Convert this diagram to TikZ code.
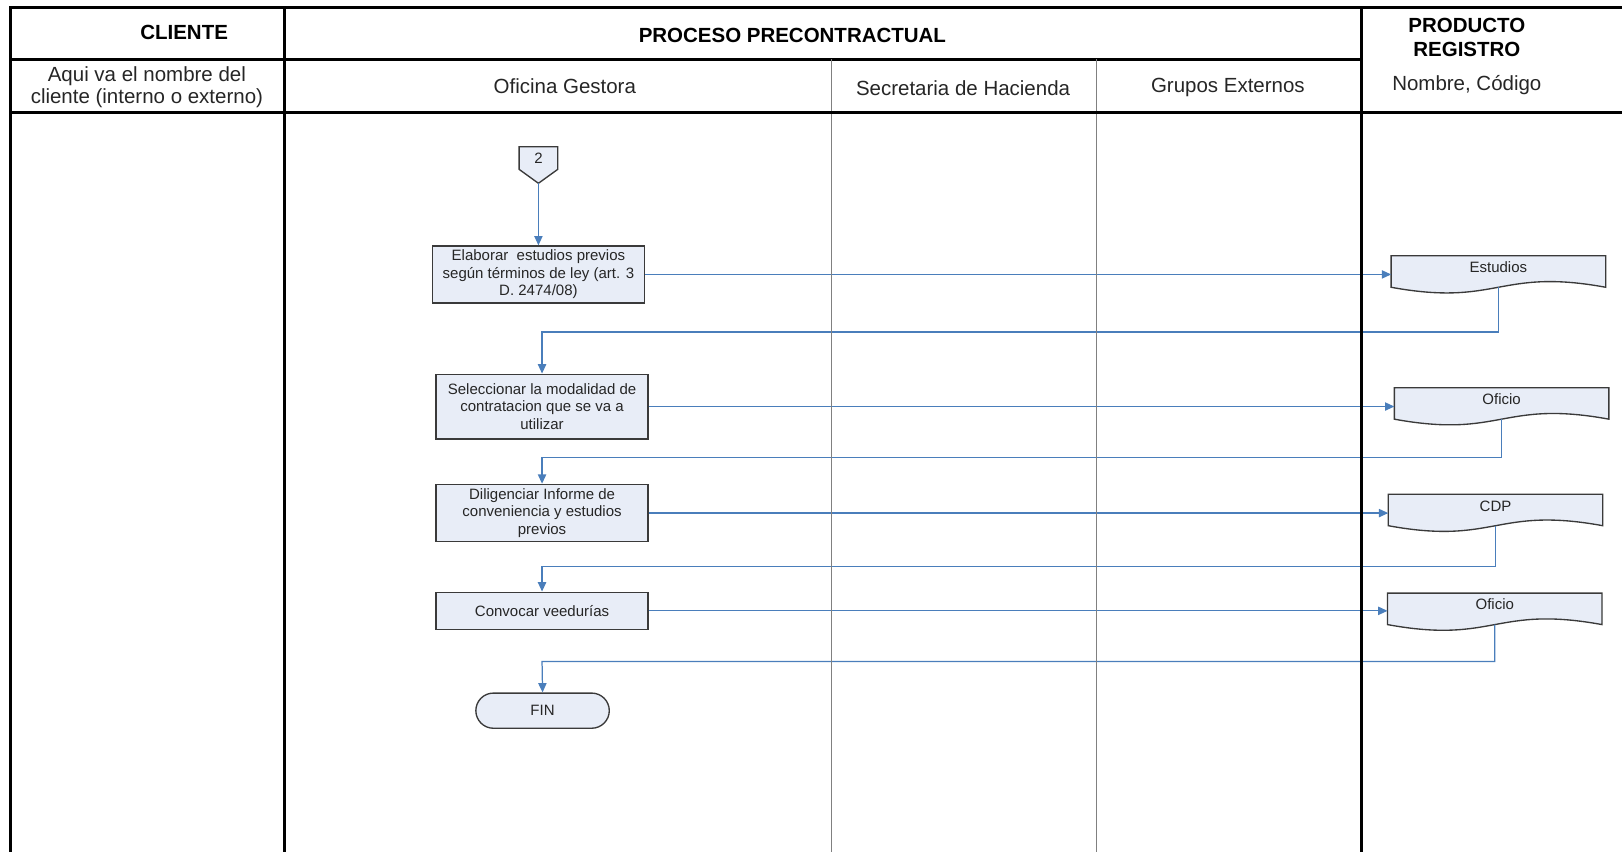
\documentclass[tikz,border=0pt]{standalone}
\usepackage{fontspec}
\setmainfont{Liberation Sans}
\usetikzlibrary{arrows.meta,backgrounds,shapes.misc,calc}
\definecolor{boxfill}{HTML}{E8EDF7}
\definecolor{flowblue}{HTML}{4A7EBB}
\definecolor{boxline}{HTML}{3A3A3A}
\definecolor{laneline}{HTML}{808080}
\definecolor{ink}{HTML}{262626}

\tikzset{
  frame/.style={line width=3pt, black},
  rowline/.style={line width=2pt, black},
  lane/.style={line width=1.4pt, laneline},
  head/.style={font=\fontsize{19.8}{23}\selectfont\bfseries, align=center, inner sep=0pt},
  sub/.style={font=\fontsize{19.8}{21}\selectfont, align=center, inner sep=0pt, text=ink},
  task/.style={draw=boxline, line width=1.3pt, fill=boxfill, minimum width=205pt,
    align=center, font=\fontsize{14.5}{17}\selectfont, text=ink, inner sep=2pt},
  docnode/.style={minimum width=207pt, minimum height=30pt, inner sep=0pt,
    font=\fontsize{14.5}{17}\selectfont, text=ink, text height=10pt, text depth=8pt},
  docshape/.style={draw=boxline, line width=1.3pt, fill=boxfill},
  offpage/.style={minimum width=37pt, minimum height=35pt, inner sep=0pt,
    font=\fontsize{14.5}{17}\selectfont, text=ink, text height=10pt, text depth=13pt},
  endterm/.style={draw=boxline, line width=1.3pt, fill=boxfill, rounded rectangle,
    minimum width=129pt, minimum height=34pt, inner sep=0pt,
    font=\fontsize{14.5}{17}\selectfont, text=ink},
  flow/.style={draw=flowblue, line width=1.2pt},
  flowarrow/.style={flow, -{Triangle[length=9pt,width=8pt]}},
}

\begin{document}
\begin{tikzpicture}[x=1pt, y=-1pt]
\useasboundingbox (0,0) rectangle (1568,824);

% ---- header texts ----
\node[head] (hcli) at (178,31) {CLIENTE};
\node[head] (hproc) at (766,34) {PROCESO PRECONTRACTUAL};
\node[head] (hprod) at (1418,36) {PRODUCTO\\REGISTRO};
\node[sub] (scli) at (142,84) {Aqui va el nombre del\\cliente (interno o externo)};
\node[sub] (sofi) at (546,83) {Oficina Gestora};
\node[sub] (ssec) at (931,85) {Secretaria de Hacienda};
\node[sub] (sgru) at (1187,85) {Grupos Externos};
\node[sub] (snom) at (1418,82) {Nombre, Código};

% ---- process steps ----
\node[offpage] (off) at (520.5,159.5) {2};
\node[task, minimum height=55pt] (b1) at (520.5,265.3)
  {Elaborar\ \ estudios previos\\según términos de ley (art. 3\\D. 2474/08)};
\node[task, minimum height=62.5pt] (b2) at (524,393)
  {Seleccionar la modalidad de\\contratacion que se va a\\utilizar};
\node[task, minimum height=55.5pt] (b3) at (524,496)
  {Diligenciar Informe de\\conveniencia y estudios\\previos};
\node[task, minimum height=36pt] (b4) at (524,590.5) {Convocar veedurías};
\node[endterm] (fin) at (524.5,687) {FIN};

% ---- products ----
\node[docnode] (d1) at (1448.5,262.5) {Estudios};
\node[docnode] (d2) at (1451.6,390) {Oficio};
\node[docnode] (d3) at (1445.7,493) {CDP};
\node[docnode] (d4) at (1445,588.6) {Oficio};

\begin{scope}[on background layer]
  \path[docshape] (off.north west) -- (off.north east)
    -- ($(off.south east)+(0,-13.5)$) -- (off.south)
    -- ($(off.south west)+(0,-13.5)$) -- cycle;
  \foreach \d in {d1,d2,d3,d4}{
    \path[docshape] (\d.north west) -- (\d.north east) -- (\d.south east)
      .. controls ($(\d.south)+(0,-19)$) and ($(\d.south)+(0,19)$) .. (\d.south west)
      -- cycle;
  }
\end{scope}

% ---- turning points of the return lines ----
\coordinate (t1) at (524,321);
\coordinate (t2) at (524,442);
\coordinate (t3) at (524,548);
\coordinate (t4) at (524,639.5);

% ---- connectors ----
\draw[flowarrow] (off.south) -- (b1.north);
\draw[flowarrow] (b1.east) -- (b1.east -| d1.west);
\draw[flowarrow] (d1.south) |- (t1) -- (b2.north);
\draw[flowarrow] (b2.east) -- (b2.east -| d2.west);
\draw[flowarrow] (d2.south) |- (t2) -- (b3.north);
\draw[flowarrow] (b3.east) -- (b3.east -| d3.west);
\draw[flowarrow] (d3.south) |- (t3) -- (b4.north);
\draw[flowarrow] (b4.east) -- (b4.east -| d4.west);
\draw[flowarrow] (d4.south) |- (t4) -- (fin.north);

% ---- swimlane grid ----
\draw[rowline] (10,57.5) -- (1316,57.5);
\draw[lane] (804,57.5) -- (804,824);
\draw[lane] (1060,57.5) -- (1060,824);
\draw[frame] (10,7.5) -- (1568,7.5);
\draw[frame] (10,108.5) -- (1568,108.5);
\draw[frame] (10,6) -- (10,824);
\draw[frame] (275,6) -- (275,824);
\draw[frame] (1316,6) -- (1316,824);
\end{tikzpicture}
\end{document}
